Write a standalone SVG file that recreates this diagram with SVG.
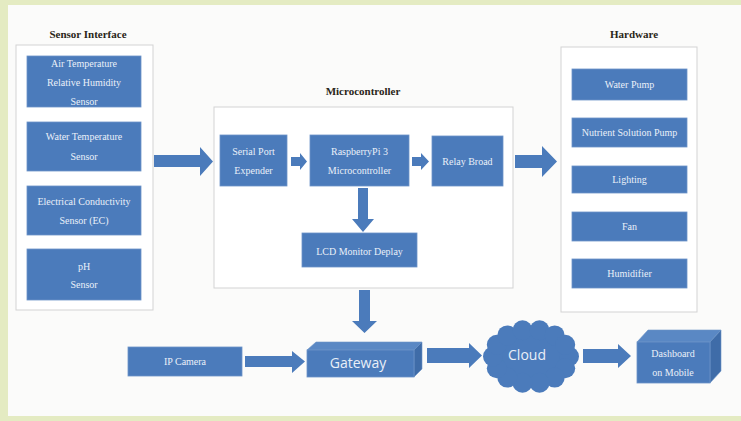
<svg xmlns="http://www.w3.org/2000/svg" width="741" height="421" viewBox="0 0 741 421">
<style>
.bg{fill:#fbfbfa}
.strip{fill:#e4ebc2}
.cont{fill:#ffffff;stroke:#d3d3d3;stroke-width:1}
.box{fill:#4b7bbb;stroke:#6c93c8;stroke-width:0.8}
.side{fill:#3f6ca8;stroke:#6c93c8;stroke-width:0.6}
.top{fill:#5a88c4;stroke:#6c93c8;stroke-width:0.6}
.lbl{font-family:"Liberation Serif",serif;font-size:10px;fill:#eaf0f9;text-anchor:middle}
.ttl{font-family:"Liberation Serif",serif;font-size:11px;font-weight:bold;fill:#2a2618;text-anchor:middle}
.big{font-family:"Open Sans","Liberation Sans",sans-serif;font-size:14px;fill:#e9eff8;text-anchor:middle}
.arr{fill:#4b7bbb}
</style>
<rect class="bg" x="0" y="0" width="741" height="421"/>
<rect class="strip" x="0" y="0" width="741" height="5"/>
<rect class="strip" x="0" y="0" width="8" height="421"/>
<rect class="strip" x="0" y="416" width="741" height="5"/>

<g id="sensor-interface">
<text class="ttl" x="88" y="38">Sensor Interface</text>
<rect class="cont" x="16" y="45" width="137" height="265"/>
</g>
<g id="air-temp">
<rect class="box" x="27" y="56" width="114" height="51"/>
<text class="lbl" x="84" y="67">Air Temperature</text>
<text class="lbl" x="84" y="86">Relative Humidity</text>
<text class="lbl" x="84" y="105">Sensor</text>
</g>
<g id="water-temp">
<rect class="box" x="27" y="122" width="114" height="49"/>
<text class="lbl" x="84" y="140">Water Temperature</text>
<text class="lbl" x="84" y="160">Sensor</text>
</g>
<g id="ec">
<rect class="box" x="27" y="186" width="114" height="49"/>
<text class="lbl" x="84" y="205">Electrical Conductivity</text>
<text class="lbl" x="84" y="224">Sensor (EC)</text>
</g>
<g id="ph">
<rect class="box" x="27" y="249" width="114" height="51"/>
<text class="lbl" x="84" y="270">pH</text>
<text class="lbl" x="84" y="288">Sensor</text>
</g>

<g id="microcontroller">
<text class="ttl" x="363" y="95">Microcontroller</text>
<rect class="cont" x="214" y="107" width="299" height="181"/>
</g>
<g id="serial">
<rect class="box" x="220" y="135" width="67" height="51"/>
<text class="lbl" x="253.5" y="155">Serial Port</text>
<text class="lbl" x="253.5" y="174">Expender</text>
</g>
<g id="rpi">
<rect class="box" x="310" y="135" width="99" height="51"/>
<text class="lbl" x="359.5" y="155">RaspberryPi 3</text>
<text class="lbl" x="359.5" y="174">Microcontroller</text>
</g>
<g id="relay">
<rect class="box" x="432" y="136" width="71" height="50"/>
<text class="lbl" x="467.5" y="165">Relay Broad</text>
</g>
<g id="lcd">
<rect class="box" x="302" y="233" width="115" height="34"/>
<text class="lbl" x="359.5" y="255">LCD Monitor Deplay</text>
</g>

<g id="hardware">
<text class="ttl" x="634" y="38">Hardware</text>
<rect class="cont" x="561" y="47" width="136" height="265"/>
</g>
<g id="water-pump">
<rect class="box" x="572" y="69" width="115" height="31"/>
<text class="lbl" x="629.5" y="88">Water Pump</text>
</g>
<g id="nutrient">
<rect class="box" x="572" y="118" width="115" height="29"/>
<text class="lbl" x="629.5" y="136">Nutrient Solution Pump</text>
</g>
<g id="lighting">
<rect class="box" x="572" y="166" width="115" height="27"/>
<text class="lbl" x="629.5" y="183">Lighting</text>
</g>
<g id="fan">
<rect class="box" x="572" y="212" width="115" height="29"/>
<text class="lbl" x="629.5" y="230">Fan</text>
</g>
<g id="humidifier">
<rect class="box" x="572" y="259" width="115" height="29"/>
<text class="lbl" x="629.5" y="277">Humidifier</text>
</g>

<g id="ip-camera">
<rect class="box" x="128" y="347" width="114" height="29"/>
<text class="lbl" x="185" y="365">IP Camera</text>
</g>
<g id="gateway">
<polygon class="top" points="307,350 316,342 422,342 414,350"/>
<polygon class="side" points="414,350 422,342 422,369 414,377"/>
<rect class="box" x="307" y="350" width="107" height="27"/>
<text class="big" x="358" y="368">Gateway</text>
</g>
<g id="cloud">
<g fill="#4b7bbb">
<ellipse cx="531" cy="356.5" rx="39" ry="29"/>
<circle cx="569" cy="356.5" r="10"/>
<circle cx="565.2" cy="368.2" r="10"/>
<circle cx="554.7" cy="377.6" r="10"/>
<circle cx="539.5" cy="382.8" r="10"/>
<circle cx="522.5" cy="382.8" r="10"/>
<circle cx="507.3" cy="377.6" r="10"/>
<circle cx="496.8" cy="368.2" r="10"/>
<circle cx="493" cy="356.5" r="10"/>
<circle cx="496.8" cy="344.8" r="10"/>
<circle cx="507.3" cy="335.4" r="10"/>
<circle cx="522.5" cy="330.2" r="10"/>
<circle cx="539.5" cy="330.2" r="10"/>
<circle cx="554.7" cy="335.4" r="10"/>
<circle cx="565.2" cy="344.8" r="10"/>
</g>
<text class="big" x="527" y="360">Cloud</text>
</g>
<g id="dashboard">
<polygon class="top" points="637,342 648,330 721,330 710,342"/>
<polygon class="side" points="710,342 721,330 721,371 710,383"/>
<rect class="box" x="637" y="342" width="73" height="41"/>
<text class="lbl" x="673" y="357">Dashboard</text>
<text class="lbl" x="673" y="376">on Mobile</text>
</g>

<g id="connectors" class="arr">
<polygon points="154,155 200,155 200,147 213,161.5 200,176 200,167 154,167"/>
<polygon points="291,157 300,157 300,153 307,161.5 300,170 300,166 291,166"/>
<polygon points="412,157 421,157 421,153 429,161.5 421,170 421,166 412,166"/>
<polygon points="358,188 368,188 368,219 374,219 363,232 352,219 358,219"/>
<polygon points="515,155 542,155 542,146 557,161.5 542,177 542,168 515,168"/>
<polygon points="359,290 370,290 370,321 377,321 364.5,333 352,321 359,321"/>
<polygon points="245,356 292,356 292,351 305,361.5 292,373 292,367 245,367"/>
<polygon points="427,348 469,348 469,343 482,355.5 469,368 469,363 427,363"/>
<polygon points="583,349 618,349 618,344 631,356 618,368 618,363 583,363"/>
</g>
</svg>
